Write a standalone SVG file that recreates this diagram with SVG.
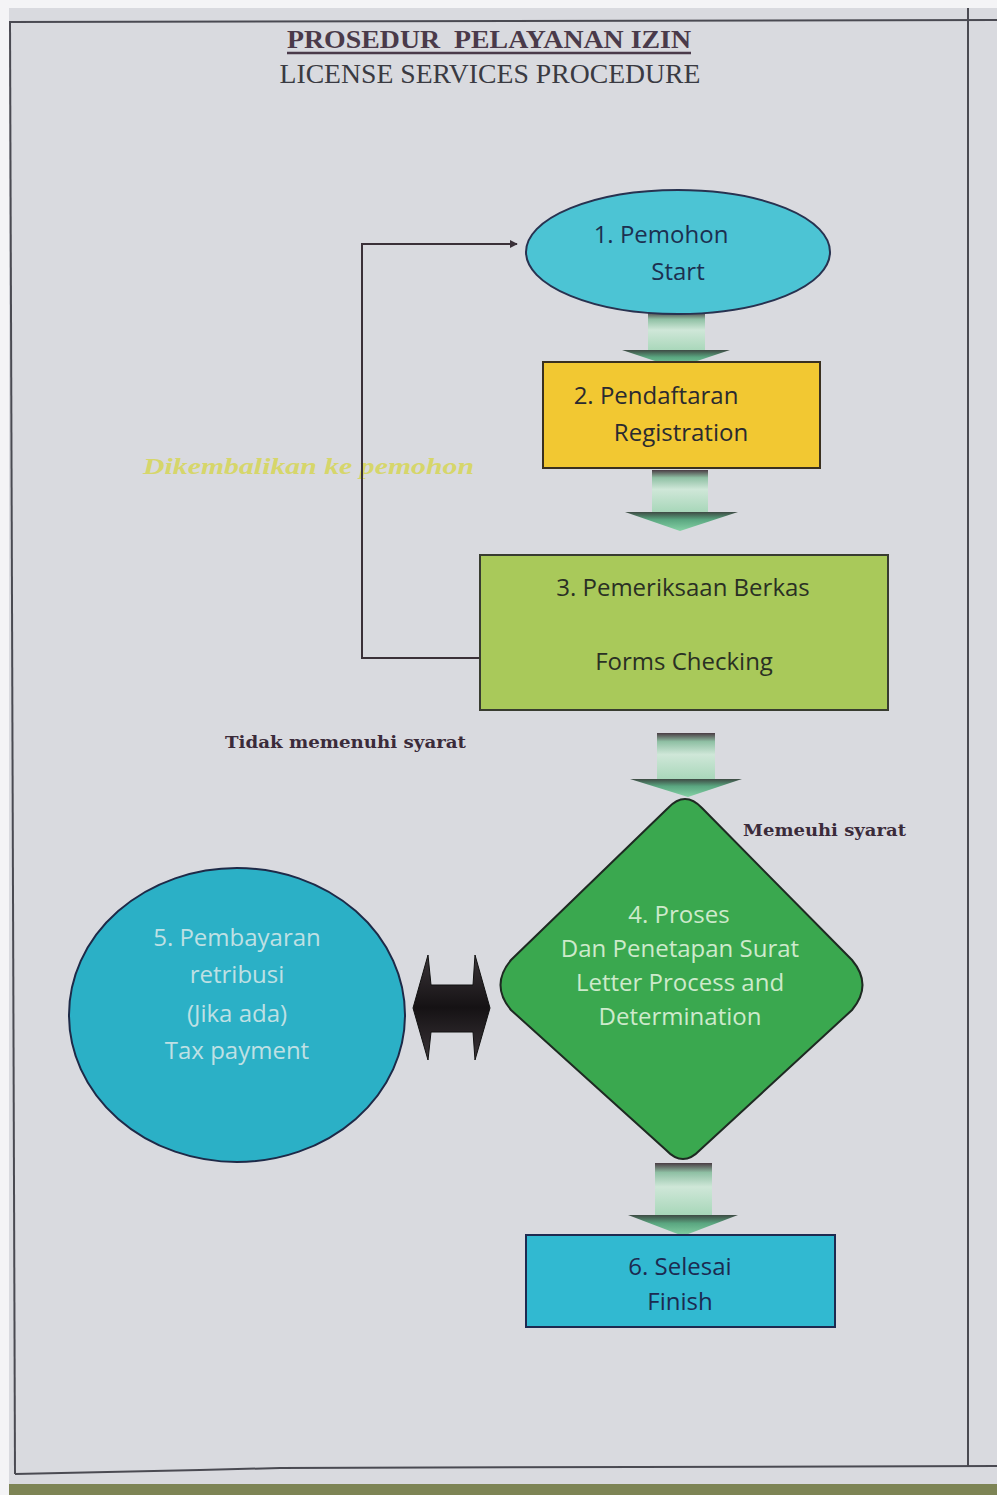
<svg xmlns="http://www.w3.org/2000/svg" width="997" height="1495" viewBox="0 0 997 1495">
<style>
.sans{font-family:"Open Sans","Noto Sans",sans-serif;font-size:24px;text-anchor:middle}
.lbl{font-family:"DejaVu Serif","Liberation Serif",serif;font-weight:bold;font-size:17px;fill:#3b2b3a}
.border{stroke:#4a4a52;stroke-width:2;fill:none}
.conn{stroke:#3a3038;stroke-width:2;fill:none}
.shaft{fill:url(#shaftG)}
.head{fill:url(#headG)}
</style>
<defs>
<linearGradient id="shaftG" x1="0" y1="0" x2="0" y2="1">
<stop offset="0" stop-color="#4a3c44"/>
<stop offset="0.18" stop-color="#8fc0a4"/>
<stop offset="0.45" stop-color="#cfe7d8"/>
<stop offset="1" stop-color="#a6d6b8"/>
</linearGradient>
<linearGradient id="headG" x1="0" y1="0" x2="0" y2="1">
<stop offset="0" stop-color="#3e4a44"/>
<stop offset="0.4" stop-color="#5aa680"/>
<stop offset="1" stop-color="#86d2a6"/>
</linearGradient>
<linearGradient id="dblG" x1="0" y1="0" x2="0" y2="1">
<stop offset="0" stop-color="#3a3438"/>
<stop offset="0.5" stop-color="#151214"/>
<stop offset="1" stop-color="#3a3438"/>
</linearGradient>
<marker id="arr" viewBox="0 0 10 10" refX="9" refY="5" markerWidth="8" markerHeight="8" markerUnits="userSpaceOnUse" orient="auto">
<path d="M0,0 L10,5 L0,10 z" fill="#3a3038"/>
</marker>
</defs>

<rect x="0" y="0" width="997" height="1495" fill="#f4f4f6"/>
<rect x="9" y="8" width="988" height="1487" fill="#d9dadf"/>
<g id="page-frame">
<path class="border" d="M9,22 L997,20"/>
<path class="border" d="M10,22 L15,1474"/>
<path class="border" d="M968,8 L968,1466"/>
<path class="border" d="M15,1474 L200,1470 L280,1468 L997,1466"/>
<rect x="9" y="1484" width="988" height="11" fill="#7d8455"/>
</g>

<g id="title">
<text x="489" y="48" xml:space="preserve" font-family="'Liberation Serif',serif" font-weight="bold" font-size="26" fill="#4a3a4a" text-anchor="middle" textLength="404" lengthAdjust="spacingAndGlyphs">PROSEDUR&#160;&#160;PELAYANAN IZIN</text>
<line x1="287" y1="53" x2="691" y2="53" stroke="#4a3a4a" stroke-width="2.5"/>
<text x="490" y="83" font-family="'Liberation Serif',serif" font-size="27" fill="#3a3a42" text-anchor="middle" textLength="421" lengthAdjust="spacingAndGlyphs">LICENSE SERVICES PROCEDURE</text>
</g>

<g id="connectors">
<text x="143" y="474" font-family="'Liberation Serif',serif" font-style="italic" font-weight="bold" font-size="23" fill="#d6d66a" textLength="331" lengthAdjust="spacingAndGlyphs">Dikembalikan ke pemohon</text>
<path class="conn" d="M481,658 L362,658 L362,244 L517,244" marker-end="url(#arr)"/>
<g id="arrow-1-2"><rect class="shaft" x="648" y="312" width="57" height="40"/><polygon class="head" points="622,350 730,350 676,368"/></g>
<g id="arrow-2-3"><rect class="shaft" x="652" y="470" width="56" height="43"/><polygon class="head" points="625,512 738,512 680,531"/></g>
<g id="arrow-3-4"><rect class="shaft" x="657" y="733" width="58" height="48"/><polygon class="head" points="630,779 742,779 688,797"/></g>
<g id="arrow-4-6"><rect class="shaft" x="655" y="1163" width="57" height="53"/><polygon class="head" points="628,1215 738,1215 683,1236"/></g>
<g id="arrow-4-5"><polygon fill="url(#dblG)" stroke="#111" stroke-width="1" points="413,1008 428,955 431,985 473,985 475,955 490,1008 475,1060 473,1032 431,1032 428,1060"/></g>
<text class="lbl" x="225" y="748" textLength="241" lengthAdjust="spacingAndGlyphs">Tidak memenuhi syarat</text>
<text class="lbl" x="743" y="836" textLength="163" lengthAdjust="spacingAndGlyphs">Memeuhi syarat</text>
</g>

<g id="node-1">
<ellipse cx="678" cy="252" rx="152" ry="62" fill="#4cc4d4" stroke="#283250" stroke-width="2"/>
<text class="sans" x="661" y="243" fill="#1c3050">1. Pemohon</text>
<text class="sans" x="678" y="280" fill="#1c3050">Start</text>
</g>

<g id="node-2">
<rect x="543" y="362" width="277" height="106" fill="#f2c832" stroke="#3a3020" stroke-width="2"/>
<text class="sans" x="656" y="404" fill="#2a2a30">2. Pendaftaran</text>
<text class="sans" x="681" y="441" fill="#2a2a30">Registration</text>
</g>

<g id="node-3">
<rect x="480" y="555" width="408" height="155" fill="#a9c95a" stroke="#383c30" stroke-width="2"/>
<text class="sans" x="683" y="596" fill="#2a3024">3. Pemeriksaan Berkas</text>
<text class="sans" x="684" y="670" fill="#2a3024">Forms Checking</text>
</g>

<g id="node-4">
<path d="M668,808 Q685,790 702,808 L852,960 Q873,985 852,1010 L700,1150 Q683,1168 666,1150 L511,1010 Q490,985 511,960 Z" fill="#3aa84f" stroke="#1e2a22" stroke-width="2"/>
<text class="sans" x="679" y="923" font-size="22" fill="#cdeacb">4. Proses</text>
<text class="sans" x="680" y="957" font-size="22" fill="#cdeacb">Dan Penetapan Surat</text>
<text class="sans" x="680" y="991" font-size="22" fill="#cdeacb">Letter Process and</text>
<text class="sans" x="680" y="1025" font-size="22" fill="#cdeacb">Determination</text>
</g>

<g id="node-5">
<ellipse cx="237" cy="1015" rx="168" ry="147" fill="#2bb0c6" stroke="#1e2a48" stroke-width="2"/>
<text class="sans" x="237" y="946" fill="#bfe0e4">5. Pembayaran</text>
<text class="sans" x="237" y="983" fill="#bfe0e4">retribusi</text>
<text class="sans" x="237" y="1022" fill="#bfe0e4">(Jika ada)</text>
<text class="sans" x="237" y="1059" fill="#bfe0e4">Tax payment</text>
</g>

<g id="node-6">
<rect x="526" y="1235" width="309" height="92" fill="#31b9d1" stroke="#1e2a50" stroke-width="2"/>
<text class="sans" x="680" y="1275" fill="#1c2a50">6. Selesai</text>
<text class="sans" x="680" y="1310" fill="#1c2a50">Finish</text>
</g>
</svg>
